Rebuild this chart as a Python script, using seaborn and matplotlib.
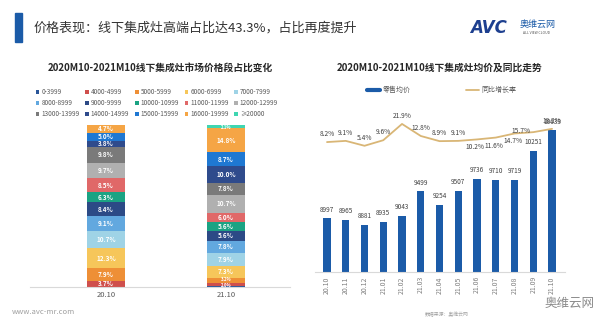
import numpy as np
import pandas as pd
import seaborn as sns
import matplotlib.pyplot as plt
from matplotlib.patches import Patch, Rectangle
from matplotlib.lines import Line2D

# ---------------- data ----------------
periods = ["20.10", "21.10"]
segments = ["0-3999", "4000-4999", "5000-5999", "6000-6999", "7000-7999",
            "8000-8999", "9000-9999", "10000-10999", "11000-11999", "12000-12999",
            "13000-13999", "14000-14999", "15000-15999", "16000-19999", "≥20000"]
share_2010 = [0.1, 3.7, 7.9, 12.3, 10.7, 9.1, 8.4, 6.3, 8.5, 9.7, 9.8, 3.8, 5.0, 4.7, 0.0]
share_2110 = [0.5, 2.0, 3.2, 7.3, 7.9, 7.8, 5.6, 5.6, 6.0, 10.7, 7.8, 10.0, 8.7, 14.8, 2.1]

months = ["20.10", "20.11", "20.12", "21.01", "21.02", "21.03", "21.04",
          "21.05", "21.06", "21.07", "21.08", "21.09", "21.10"]
avg_price = [8997, 8965, 8881, 8935, 9043, 9499, 9254, 9507, 9736, 9710, 9719, 10251, 10633]
yoy_growth = [8.2, 9.1, 5.4, 9.6, 21.9, 12.8, 8.9, 9.1, 10.2, 11.6, 14.7, 15.7, 18.2]

seg_colors = ["#2a5699", "#cf4f4c", "#ee8f36", "#f6c65a", "#9fd3e6",
              "#62a8df", "#2c4a86", "#1ba383", "#e06868", "#b0b0b0",
              "#7a7a7a", "#2f4b8c", "#1f78d2", "#f5a545", "#3fd6b1"]
bar_color = "#1b5ba8"
line_color = "#d9b676"

# ---------------- style ----------------
sns.set_theme(style="white")
plt.rcParams['font.family'] = ['Noto Sans CJK SC', 'DejaVu Sans']

W, H = 600, 326
fig = plt.figure(figsize=(6, 3.26), dpi=100)

def fx(px):
    return px / W

def fy(py):
    return 1 - py / H

# header
fig.patches.append(Rectangle((fx(15), fy(42)), fx(7), fy(13) - fy(42),
                             transform=fig.transFigure, color=bar_color))
fig.text(fx(34), fy(28), "价格表现：线下集成灶高端占比达43.3%，占比再度提升",
         fontsize=9.4, color="#333333", va="center", ha="left")
fig.text(fx(470), fy(28), "AVC", fontsize=12, fontweight="bold", fontstyle="italic",
         color="#1d3f8f", va="center", ha="left", family="DejaVu Sans")
fig.text(fx(520), fy(24), "奥维云网", fontsize=6.5, color="#1b5ba8", va="center", ha="left")
fig.text(fx(523), fy(33), "ALL VIEW CLOUD", fontsize=2.5, color="#555555", va="center", ha="left")

# footer
fig.text(fx(12), fy(312), "www.avc-mr.com", fontsize=5.5, color="#a0a0a0", va="center")
fig.text(fx(425), fy(314), "数据来源：奥维云网", fontsize=3.5, color="#a0a0a0", va="center")
fig.text(fx(595), fy(303), "奥维云网", fontsize=9, color="#8a8a8a", va="center", ha="right")

# ---------------- left: stacked bars ----------------
axL = fig.add_axes([fx(30), fy(287), fx(260), fy(125) - fy(287)])
bottoms = np.zeros(2)
for i, seg in enumerate(segments):
    vals = np.array([share_2010[i], share_2110[i]])
    try:
        sns.barplot(x=periods, y=vals, bottom=bottoms, color=seg_colors[i],
                    width=0.31, saturation=1, ax=axL, linewidth=0)
    except Exception:
        axL.bar(np.arange(2), vals, bottom=bottoms, color=seg_colors[i], width=0.31, linewidth=0)
    for j in range(2):
        v = vals[j]
        if v >= 1.5:
            fs = 4.6 if v >= 3.5 else 3.1
            ymid = bottoms[j] + v / 2
            if v < 3.5:
                ymid += (-0.4 if v < 2.5 else 0.4)
            axL.text(j, ymid, f"{v:.1f}%", ha="center", va="center",
                     fontsize=fs, color="white", fontweight="bold")
    bottoms += vals
axL.set_xlim(-0.633, 1.533)
axL.set_ylim(0, 100)
axL.set_yticks([])
axL.set_xticks([0, 1])
axL.set_xticklabels(periods, fontsize=5.5, color="#595959")
axL.tick_params(axis="x", length=0, pad=3)
for s in ["top", "right", "left"]:
    axL.spines[s].set_visible(False)
axL.spines["bottom"].set_color("#d9d9d9")
axL.spines["bottom"].set_linewidth(0.8)
axL.set_xlabel("")
axL.patch.set_alpha(0)

fig.text(fx(160), fy(68), "2020M10-2021M10线下集成灶市场价格段占比变化",
         fontsize=7, fontweight="bold", color="#262626", ha="center", va="center")

handles = [Patch(facecolor=c, edgecolor="none") for c in seg_colors]
order = []
for c in range(5):
    for r in range(3):
        order.append(r * 5 + c)
axL.legend([handles[k] for k in order], [segments[k] for k in order], ncol=5,
           loc="center", bbox_to_anchor=(fx(157), fy(103)), bbox_transform=fig.transFigure,
           fontsize=4.6, frameon=False, handlelength=0.55, handleheight=0.55,
           handletextpad=0.3, columnspacing=0.9, labelspacing=0.45, labelcolor="#595959")

# ---------------- right: bars + line ----------------
axR = fig.add_axes([fx(315), fy(272), fx(250), fy(100) - fy(272)])
sns.barplot(x=months, y=avg_price, color=bar_color, width=0.38, saturation=1, ax=axR, linewidth=0)
axR.set_ylim(8000, 11200)
for i, v in enumerate(avg_price):
    axR.text(i, v + 90, f"{v}", ha="center", va="bottom", fontsize=4.6, color="#404040")
axR.set_yticks([])
axR.set_xticks(range(len(months)))
axR.set_xticklabels(months, rotation=90, fontsize=5, color="#7f7f7f")
axR.tick_params(axis="x", length=0, pad=3)
for s in ["top", "right", "left"]:
    axR.spines[s].set_visible(False)
axR.spines["bottom"].set_color("#d9d9d9")
axR.spines["bottom"].set_linewidth(0.8)
axR.set_xlabel("")
axR.set_ylabel("")
axR.patch.set_alpha(0)

axR2 = axR.twinx()
sns.lineplot(x=np.arange(len(months)), y=yoy_growth, color=line_color, linewidth=1.3, ax=axR2)
axR2.set_ylim(-90, 40)
axR2.set_yticks([])
for s in ["top", "right", "left", "bottom"]:
    axR2.spines[s].set_visible(False)
for i, v in enumerate(yoy_growth):
    dx, dy, ha, va = 0, 3, "center", "bottom"
    if i in (8, 9, 10):
        dx, dy, va = -0.1, -3, "top"
    if i == 11:
        dx, dy, ha, va = -0.15, 1, "right", "center"
    axR2.text(i + dx, v + dy, f"{v:.1f}%", ha=ha, va=va, fontsize=4.8, color="#404040")
axR.set_xlim(-0.64, 12.69)
axR2.set_xlim(-0.64, 12.69)

fig.text(fx(440), fy(68), "2020M10-2021M10线下集成灶均价及同比走势",
         fontsize=7, fontweight="bold", color="#262626", ha="center", va="center")

leg_handles = [Line2D([0], [0], color=bar_color, linewidth=3),
               Line2D([0], [0], color=line_color, linewidth=1.3)]
fig.legend(leg_handles, ["零售均价", "同比增长率"], ncol=2, loc="center",
           bbox_to_anchor=(fx(442), fy(90)), fontsize=5, frameon=False,
           handlelength=1.8, handletextpad=0.4, columnspacing=8, labelcolor="#595959")

fig.savefig("out.png", dpi=100)
